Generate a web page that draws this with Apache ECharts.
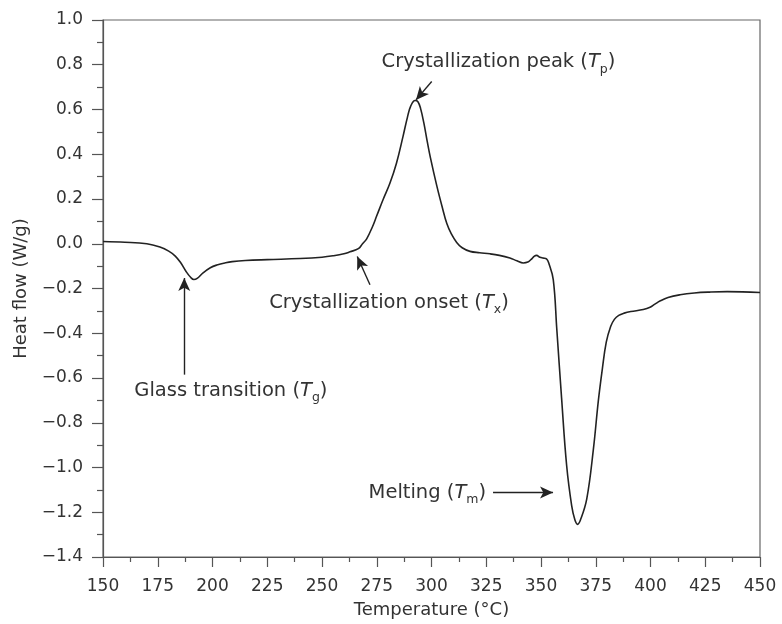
<!DOCTYPE html>
<html>
<head>
<meta charset="utf-8">
<script src="https://cdn.jsdelivr.net/npm/echarts@6/dist/echarts.min.js"></script>
<style>html,body{margin:0;padding:0;background:#fff}#c{width:782px;height:624px}</style>
</head>
<body>
<div id="c"></div>
<script>
// Temperature (°C)
const temps = [150,160,170,176,180,183,185.5,188,190,191.5,193,195.7,199,202,206,209,215,225,240,250,255,260,262.8,266.6,268.5,270.4,273,275,278,281,284,287,289,290.5,292.5,293.8,295,296.5,298,299.5,302.4,305,307,309,311.5,314,317.6,322,326.7,331,335.8,339,341.9,344,345.5,347,348,349.5,351,352.5,353.5,355.6,357.2,359.4,361.7,364,365.5,366.7,368,370.9,373.9,376.2,378,379.8,381.8,383.5,385.5,388,391,396.7,399.8,402,404.3,408,413.5,420,427,435,442,450];
// Heat flow (W/g)
const heatFlow = [0.010,0.007,0.000,-0.015,-0.033,-0.055,-0.085,-0.125,-0.150,-0.160,-0.155,-0.130,-0.107,-0.095,-0.085,-0.080,-0.075,-0.071,-0.066,-0.060,-0.054,-0.045,-0.036,-0.022,0.000,0.022,0.075,0.125,0.200,0.270,0.360,0.480,0.565,0.615,0.640,0.635,0.605,0.540,0.460,0.385,0.260,0.160,0.090,0.045,0.006,-0.018,-0.034,-0.040,-0.045,-0.052,-0.064,-0.076,-0.086,-0.082,-0.070,-0.055,-0.052,-0.060,-0.064,-0.068,-0.085,-0.160,-0.380,-0.690,-0.990,-1.170,-1.235,-1.254,-1.235,-1.140,-0.920,-0.700,-0.560,-0.440,-0.370,-0.338,-0.320,-0.310,-0.303,-0.294,-0.284,-0.270,-0.256,-0.240,-0.228,-0.220,-0.216,-0.214,-0.215,-0.218];

// Annotation texts placed at [T, value]
const annoNames = ['peak','onset','glass','melt'];
const annoLabelPos = [[330.6,0.8125],[280.6,-0.263],[208.4,-0.656],[298.1,-1.112]];
// Arrows: [from, to] in data coordinates
const arrowFrom = [[300.1,0.725],[271.9,-0.183],[187.1,-0.585],[328.1,-1.112]];
const arrowTo = [[292.9,0.643],[266.1,-0.057],[187.1,-0.153],[355.5,-1.112]];

const xTicks = {min:150,max:450,interval:25};
const yTicks = {min:-1.4,max:1.0,interval:0.2};

const FONT = '"DejaVu Sans", sans-serif';
const TXT = '#333';
const rich = {
  n:{fontFamily:FONT,fontSize:19.5,color:TXT},
  it:{fontFamily:FONT,fontSize:19.5,color:TXT,fontStyle:'italic'},
  sub:{fontFamily:FONT,fontSize:12.5,color:TXT,verticalAlign:'bottom',lineHeight:28}
};
const labelTexts = {
  peak:'{n|Crystallization peak (}{it|T}{sub|p}{n|)}',
  onset:'{n|Crystallization onset (}{it|T}{sub|x}{n|)}',
  glass:'{n|Glass transition (}{it|T}{sub|g}{n|)}',
  melt:'{n|Melting (}{it|T}{sub|m}{n|)}'
};

const data = temps.map((t,i)=>[t,heatFlow[i]]);
const chart = echarts.init(document.getElementById('c'),null,{renderer:'canvas'});
const fmt = v => { const s = (Math.round(v*10)/10).toFixed(1); return s.replace('-','\u2212'); };

chart.setOption({
  animation:false,
  backgroundColor:'#fff',
  grid:{left:103,right:22,top:20,bottom:66,show:true,borderColor:'#666',borderWidth:1.2},
  xAxis:{type:'value',min:xTicks.min,max:xTicks.max,interval:xTicks.interval,
    name:'Temperature (\u00b0C)',nameLocation:'middle',nameGap:44,
    nameTextStyle:{fontFamily:FONT,fontSize:18,color:TXT},
    axisLine:{onZero:false,lineStyle:{color:'#555',width:1.2}},
    axisTick:{inside:false,length:10,lineStyle:{color:'#555',width:1.2}},
    minorTick:{show:true,splitNumber:2,length:5,lineStyle:{color:'#555',width:1.2}},
    splitLine:{show:false},
    axisLabel:{fontFamily:FONT,fontSize:17,color:TXT,margin:21}},
  yAxis:{type:'value',min:yTicks.min,max:yTicks.max,interval:yTicks.interval,
    name:'Heat flow (W/g)',nameLocation:'middle',nameGap:71,nameRotate:90,
    nameTextStyle:{fontFamily:FONT,fontSize:18,color:TXT},
    axisLine:{onZero:false,lineStyle:{color:'#555',width:1.2}},
    axisTick:{inside:false,length:11,lineStyle:{color:'#555',width:1.2}},
    minorTick:{show:true,splitNumber:2,length:6,lineStyle:{color:'#555',width:1.2}},
    splitLine:{show:false},
    axisLabel:{fontFamily:FONT,fontSize:17,color:TXT,margin:20,formatter:fmt}},
  series:[{
    type:'line',data:data,showSymbol:false,smooth:0.4,
    lineStyle:{color:'#222',width:1.6},
    silent:true,
    markLine:{silent:true,symbol:['none','arrow'],symbolSize:[9,13],
      lineStyle:{color:'#222',width:1.4,type:'solid'},label:{show:false},
      data:arrowFrom.map((f,i)=>[{coord:f},{coord:arrowTo[i]}])},
    markPoint:{silent:true,symbol:'circle',symbolSize:0,
      data:annoNames.map((k,i)=>({coord:annoLabelPos[i],
        label:{show:true,position:'inside',formatter:labelTexts[k],rich:rich}}))}
  }]
});
</script>
</body>
</html>
